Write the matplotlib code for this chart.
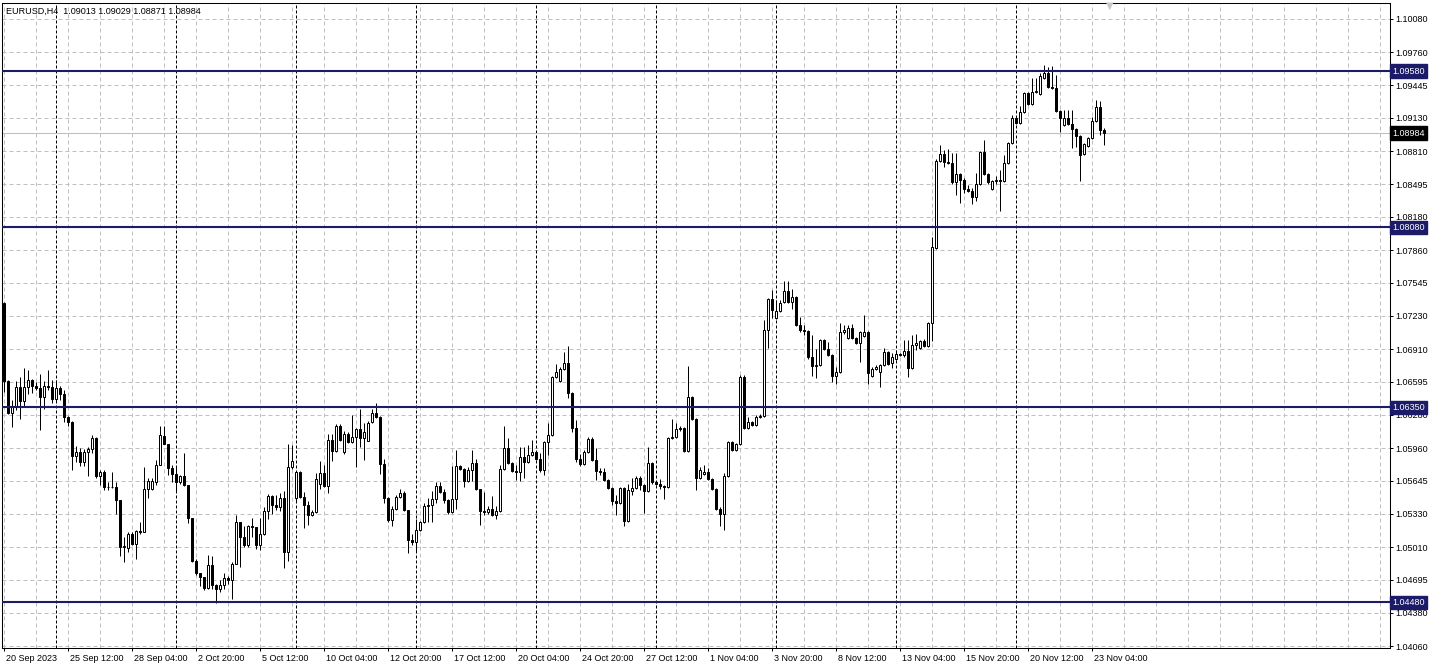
import matplotlib
matplotlib.use("Agg")
import matplotlib.pyplot as plt
from matplotlib.transforms import ScaledTranslation
import numpy as np

# ---------------- data ----------------
title_text = "EURUSD,H4  1.09013 1.09029 1.08871 1.08984"

opens = [
    1.0735, 1.0660, 1.0630, 1.0636, 1.0655, 1.0641, 1.0655, 1.0661, 1.0656, 1.0654,
    1.0645, 1.0656, 1.0655, 1.0643, 1.0654, 1.0648, 1.0626, 1.0621, 1.0588, 1.0592,
    1.0583, 1.0592, 1.0595, 1.0606, 1.0569, 1.0573, 1.0559, 1.0559, 1.0559, 1.0546,
    1.0501, 1.0500, 1.0514, 1.0504, 1.0516, 1.0515, 1.0557, 1.0557, 1.0563, 1.0580,
    1.0608, 1.0600, 1.0577, 1.0571, 1.0563, 1.0569, 1.0561, 1.0529, 1.0488, 1.0476,
    1.0472, 1.0462, 1.0484, 1.0465, 1.0461, 1.0465, 1.0471, 1.0469, 1.0485, 1.0525,
    1.0511, 1.0503, 1.0521, 1.0520, 1.0503, 1.0514, 1.0536, 1.0550, 1.0541, 1.0539,
    1.0548, 1.0496, 1.0578, 1.0548, 1.0573, 1.0549, 1.0541, 1.0532, 1.0535, 1.0562,
    1.0572, 1.0560, 1.0604, 1.0593, 1.0617, 1.0592, 1.0610, 1.0602, 1.0607, 1.0614,
    1.0606, 1.0603, 1.0621, 1.0630, 1.0626, 1.0581, 1.0548, 1.0527, 1.0538, 1.0549,
    1.0553, 1.0537, 1.0508, 1.0506, 1.0517, 1.0525, 1.0540, 1.0541, 1.0547, 1.0560,
    1.0554, 1.0546, 1.0535, 1.0547, 1.0579, 1.0576, 1.0564, 1.0575, 1.0582, 1.0557,
    1.0536, 1.0535, 1.0538, 1.0532, 1.0536, 1.0576, 1.0596, 1.0582, 1.0574, 1.0573,
    1.0587, 1.0583, 1.0589, 1.0592, 1.0586, 1.0575, 1.0602, 1.0609, 1.0664, 1.0660,
    1.0672, 1.0678, 1.0649, 1.0615, 1.0586, 1.0581, 1.0592, 1.0605, 1.0585, 1.0574,
    1.0573, 1.0565, 1.0558, 1.0545, 1.0543, 1.0558, 1.0526, 1.0555, 1.0558, 1.0567,
    1.0561, 1.0555, 1.0582, 1.0563, 1.0562, 1.0560, 1.0559, 1.0606, 1.0607, 1.0614,
    1.0615, 1.0593, 1.0645, 1.0624, 1.0567, 1.0571, 1.0573, 1.0566, 1.0557, 1.0538,
    1.0533, 1.0569, 1.0602, 1.0594, 1.0600, 1.0664, 1.0615, 1.0621, 1.0618, 1.0626,
    1.0627, 1.0709, 1.0739, 1.0721, 1.0728, 1.0736, 1.0747, 1.0736, 1.0741, 1.0714,
    1.0709, 1.0708, 1.0683, 1.0675, 1.0676, 1.0700, 1.0691, 1.0685, 1.0665, 1.0669,
    1.0707, 1.0702, 1.0711, 1.0702, 1.0697, 1.0704, 1.0707, 1.0665, 1.0672, 1.0669,
    1.0676, 1.0688, 1.0678, 1.0682, 1.0686, 1.0685, 1.0689, 1.0673, 1.0695, 1.0692,
    1.0699, 1.0694, 1.0716, 1.0788, 1.0872, 1.0878, 1.0871, 1.0870, 1.0851, 1.0859,
    1.0853, 1.0845, 1.0843, 1.0837, 1.0850, 1.0880, 1.0859, 1.0845, 1.0852, 1.0853,
    1.0852, 1.0870, 1.0889, 1.0913, 1.0908, 1.0919, 1.0937, 1.0926, 1.0938, 1.0936,
    1.0951, 1.0956, 1.0943, 1.0942, 1.0920, 1.0906, 1.0913, 1.0907, 1.0902, 1.0896,
    1.0878, 1.0886, 1.0894, 1.0910, 1.0923, 1.09013,
]

highs = [
    1.0736, 1.0661, 1.0642, 1.0660, 1.0664, 1.0673, 1.0671, 1.0662, 1.0659, 1.0667,
    1.0660, 1.0671, 1.0661, 1.0661, 1.0656, 1.0652, 1.0627, 1.0622, 1.0598, 1.0596,
    1.0595, 1.0597, 1.0609, 1.0607, 1.0575, 1.0575, 1.0563, 1.0573, 1.0563, 1.0546,
    1.0511, 1.0515, 1.0515, 1.0517, 1.0525, 1.0578, 1.0567, 1.0567, 1.0585, 1.0617,
    1.0617, 1.0600, 1.0580, 1.0579, 1.0570, 1.0591, 1.0561, 1.0529, 1.0490, 1.0476,
    1.0472, 1.0493, 1.0492, 1.0466, 1.0469, 1.0476, 1.0473, 1.0487, 1.0532, 1.0525,
    1.0521, 1.0522, 1.0529, 1.0520, 1.0529, 1.0539, 1.0552, 1.0551, 1.0551, 1.0553,
    1.0555, 1.0600, 1.0599, 1.0574, 1.0574, 1.0554, 1.0545, 1.0537, 1.0572, 1.0584,
    1.0580, 1.0610, 1.0610, 1.0619, 1.0619, 1.0612, 1.0611, 1.0628, 1.0615, 1.0634,
    1.0620, 1.0622, 1.0634, 1.0639, 1.0627, 1.0586, 1.0549, 1.0540, 1.0551, 1.0557,
    1.0555, 1.0537, 1.0514, 1.0528, 1.0526, 1.0543, 1.0548, 1.0555, 1.0563, 1.0563,
    1.0557, 1.0547, 1.0579, 1.0594, 1.0580, 1.0577, 1.0578, 1.0594, 1.0586, 1.0557,
    1.0554, 1.0540, 1.0550, 1.0540, 1.0580, 1.0617, 1.0606, 1.0583, 1.0580, 1.0597,
    1.0597, 1.0599, 1.0604, 1.0593, 1.0591, 1.0603, 1.0620, 1.0665, 1.0677, 1.0674,
    1.0688, 1.0694, 1.0650, 1.0623, 1.0590, 1.0594, 1.0607, 1.0607, 1.0596, 1.0577,
    1.0577, 1.0566, 1.0559, 1.0551, 1.0559, 1.0559, 1.0562, 1.0567, 1.0569, 1.0569,
    1.0562, 1.0597, 1.0583, 1.0564, 1.0566, 1.0561, 1.0607, 1.0624, 1.0620, 1.0617,
    1.0616, 1.0675, 1.0646, 1.0625, 1.0578, 1.0580, 1.0577, 1.0567, 1.0558, 1.0539,
    1.0572, 1.0603, 1.0603, 1.0601, 1.0666, 1.0666, 1.0626, 1.0622, 1.0628, 1.0629,
    1.0719, 1.0740, 1.0748, 1.0738, 1.0738, 1.0756, 1.0756, 1.0749, 1.0742, 1.0722,
    1.0714, 1.0709, 1.0705, 1.0691, 1.0701, 1.0701, 1.0698, 1.0686, 1.0674, 1.0716,
    1.0714, 1.0714, 1.0715, 1.0703, 1.0708, 1.0724, 1.0708, 1.0674, 1.0676, 1.0677,
    1.0692, 1.0689, 1.0687, 1.0690, 1.0687, 1.0700, 1.0700, 1.0705, 1.0706, 1.0700,
    1.0701, 1.0717, 1.0799, 1.0874, 1.0887, 1.0882, 1.0883, 1.0879, 1.0879, 1.0860,
    1.0855, 1.0849, 1.0846, 1.0860, 1.0881, 1.0892, 1.0860, 1.0853, 1.0857, 1.0863,
    1.0877, 1.0890, 1.0916, 1.0914, 1.0924, 1.0938, 1.0938, 1.0951, 1.0951, 1.0956,
    1.0964, 1.0962, 1.0963, 1.0954, 1.0921, 1.0921, 1.0921, 1.0921, 1.0903, 1.0897,
    1.0889, 1.0895, 1.0914, 1.0930, 1.0929, 1.09029,
]

lows = [
    1.0650, 1.0629, 1.0616, 1.0633, 1.0624, 1.0636, 1.0648, 1.0649, 1.0652, 1.0613,
    1.0634, 1.0652, 1.0639, 1.0641, 1.0642, 1.0621, 1.0617, 1.0575, 1.0583, 1.0579,
    1.0579, 1.0569, 1.0591, 1.0567, 1.0561, 1.0556, 1.0556, 1.0558, 1.0533, 1.0492,
    1.0487, 1.0496, 1.0503, 1.0490, 1.0514, 1.0515, 1.0548, 1.0556, 1.0561, 1.0580,
    1.0600, 1.0570, 1.0563, 1.0554, 1.0562, 1.0560, 1.0524, 1.0487, 1.0474, 1.0464,
    1.0460, 1.0461, 1.0461, 1.0447, 1.0458, 1.0461, 1.0466, 1.0451, 1.0485, 1.0482,
    1.0501, 1.0501, 1.0511, 1.0499, 1.0498, 1.0513, 1.0528, 1.0533, 1.0537, 1.0536,
    1.0481, 1.0488, 1.0576, 1.0545, 1.0548, 1.0519, 1.0522, 1.0531, 1.0534, 1.0557,
    1.0559, 1.0553, 1.0584, 1.0592, 1.0603, 1.0590, 1.0601, 1.0601, 1.0578, 1.0597,
    1.0585, 1.0603, 1.0620, 1.0625, 1.0571, 1.0543, 1.0525, 1.0521, 1.0537, 1.0548,
    1.0536, 1.0495, 1.0503, 1.0497, 1.0516, 1.0524, 1.0525, 1.0525, 1.0543, 1.0553,
    1.0543, 1.0533, 1.0534, 1.0538, 1.0575, 1.0559, 1.0563, 1.0564, 1.0556, 1.0522,
    1.0532, 1.0533, 1.0531, 1.0528, 1.0535, 1.0575, 1.0581, 1.0573, 1.0565, 1.0564,
    1.0567, 1.0582, 1.0588, 1.0585, 1.0573, 1.0570, 1.0589, 1.0608, 1.0663, 1.0659,
    1.0671, 1.0644, 1.0611, 1.0583, 1.0579, 1.0580, 1.0591, 1.0584, 1.0565, 1.0570,
    1.0564, 1.0557, 1.0541, 1.0532, 1.0542, 1.0521, 1.0525, 1.0551, 1.0557, 1.0556,
    1.0534, 1.0554, 1.0562, 1.0561, 1.0557, 1.0547, 1.0558, 1.0605, 1.0606, 1.0612,
    1.0592, 1.0592, 1.0623, 1.0556, 1.0566, 1.0570, 1.0565, 1.0556, 1.0537, 1.0521,
    1.0517, 1.0568, 1.0593, 1.0593, 1.0599, 1.0614, 1.0614, 1.0617, 1.0617, 1.0625,
    1.0626, 1.0692, 1.0721, 1.0720, 1.0727, 1.0735, 1.0735, 1.0730, 1.0713, 1.0707,
    1.0705, 1.0682, 1.0665, 1.0663, 1.0675, 1.0690, 1.0684, 1.0659, 1.0658, 1.0668,
    1.0706, 1.0701, 1.0701, 1.0696, 1.0679, 1.0703, 1.0658, 1.0664, 1.0671, 1.0655,
    1.0675, 1.0676, 1.0673, 1.0681, 1.0684, 1.0683, 1.0664, 1.0672, 1.0690, 1.0691,
    1.0693, 1.0693, 1.0699, 1.0787, 1.0871, 1.0866, 1.0869, 1.0850, 1.0839, 1.0831,
    1.0841, 1.0842, 1.0830, 1.0833, 1.0849, 1.0858, 1.0850, 1.0844, 1.0850, 1.0824,
    1.0851, 1.0869, 1.0888, 1.0907, 1.0907, 1.0918, 1.0925, 1.0925, 1.0937, 1.0935,
    1.0950, 1.0942, 1.0941, 1.0919, 1.0899, 1.0905, 1.0906, 1.0884, 1.0885, 1.0852,
    1.0877, 1.0885, 1.0893, 1.0909, 1.0897, 1.08871,
]

closes = [
    1.0660, 1.0630, 1.0636, 1.0655, 1.0641, 1.0655, 1.0661, 1.0656, 1.0654, 1.0645,
    1.0656, 1.0655, 1.0643, 1.0654, 1.0648, 1.0626, 1.0621, 1.0588, 1.0592, 1.0583,
    1.0592, 1.0595, 1.0606, 1.0569, 1.0573, 1.0559, 1.0559, 1.0559, 1.0546, 1.0501,
    1.0502, 1.0514, 1.0504, 1.0516, 1.0515, 1.0557, 1.0564, 1.0564, 1.0580, 1.0609,
    1.0600, 1.0577, 1.0571, 1.0563, 1.0569, 1.0561, 1.0529, 1.0488, 1.0476, 1.0472,
    1.0462, 1.0484, 1.0465, 1.0461, 1.0465, 1.0471, 1.0469, 1.0485, 1.0525, 1.0511,
    1.0503, 1.0521, 1.0520, 1.0503, 1.0514, 1.0536, 1.0550, 1.0541, 1.0539, 1.0548,
    1.0496, 1.0578, 1.0584, 1.0573, 1.0549, 1.0541, 1.0532, 1.0535, 1.0566, 1.0572,
    1.0560, 1.0604, 1.0593, 1.0617, 1.0604, 1.0610, 1.0602, 1.0607, 1.0614, 1.0606,
    1.0611, 1.0620, 1.0630, 1.0626, 1.0581, 1.0548, 1.0527, 1.0538, 1.0549, 1.0553,
    1.0537, 1.0508, 1.0506, 1.0517, 1.0525, 1.0540, 1.0541, 1.0547, 1.0560, 1.0554,
    1.0546, 1.0535, 1.0547, 1.0579, 1.0576, 1.0564, 1.0575, 1.0582, 1.0557, 1.0536,
    1.0535, 1.0538, 1.0532, 1.0536, 1.0576, 1.0596, 1.0582, 1.0574, 1.0573, 1.0587,
    1.0583, 1.0589, 1.0592, 1.0586, 1.0575, 1.0602, 1.0609, 1.0664, 1.0669, 1.0672,
    1.0678, 1.0649, 1.0615, 1.0586, 1.0581, 1.0592, 1.0605, 1.0585, 1.0574, 1.0573,
    1.0565, 1.0558, 1.0545, 1.0543, 1.0558, 1.0526, 1.0556, 1.0558, 1.0567, 1.0561,
    1.0555, 1.0582, 1.0563, 1.0562, 1.0560, 1.0559, 1.0606, 1.0607, 1.0614, 1.0615,
    1.0593, 1.0645, 1.0624, 1.0567, 1.0575, 1.0573, 1.0566, 1.0557, 1.0538, 1.0533,
    1.0569, 1.0602, 1.0594, 1.0600, 1.0664, 1.0615, 1.0621, 1.0618, 1.0626, 1.0627,
    1.0709, 1.0739, 1.0729, 1.0728, 1.0735, 1.0747, 1.0736, 1.0741, 1.0714, 1.0709,
    1.0708, 1.0683, 1.0675, 1.0676, 1.0700, 1.0691, 1.0685, 1.0665, 1.0669, 1.0707,
    1.0709, 1.0711, 1.0702, 1.0697, 1.0707, 1.0707, 1.0668, 1.0672, 1.0674, 1.0676,
    1.0688, 1.0677, 1.0683, 1.0686, 1.0685, 1.0689, 1.0673, 1.0695, 1.0697, 1.0699,
    1.0694, 1.0716, 1.0789, 1.0872, 1.0878, 1.0871, 1.0870, 1.0851, 1.0859, 1.0853,
    1.0845, 1.0843, 1.0837, 1.0850, 1.0880, 1.0859, 1.0851, 1.0852, 1.0853, 1.0852,
    1.0870, 1.0889, 1.0913, 1.0908, 1.0919, 1.0937, 1.0926, 1.0938, 1.0939, 1.0953,
    1.0956, 1.0943, 1.0942, 1.0920, 1.0913, 1.0913, 1.0907, 1.0902, 1.0896, 1.0877,
    1.0888, 1.0894, 1.0910, 1.0923, 1.0901, 1.08984,
]

x_label_pos = [0, 16, 32, 48, 64, 80, 96, 112, 128, 144, 160, 176, 192, 208, 224, 240, 256, 272]
x_label_txt = ["20 Sep 2023", "25 Sep 12:00", "28 Sep 04:00", "2 Oct 20:00", "5 Oct 12:00",
               "10 Oct 04:00", "12 Oct 20:00", "17 Oct 12:00", "20 Oct 04:00", "24 Oct 20:00",
               "27 Oct 12:00", "1 Nov 04:00", "3 Nov 20:00", "8 Nov 12:00", "13 Nov 04:00",
               "15 Nov 20:00", "20 Nov 12:00", "23 Nov 04:00"]
week_starts = [13, 43, 73, 103, 133, 163, 193, 223, 253]

y_ticks = [1.10080, 1.09760, 1.09445, 1.09130, 1.08810, 1.08495, 1.08180, 1.07860, 1.07545,
           1.07230, 1.06910, 1.06595, 1.06280, 1.05960, 1.05645, 1.05330, 1.05010, 1.04695,
           1.04380, 1.04060]
levels = [1.09580, 1.08080, 1.06350, 1.04480]
last_price = 1.08984

# ---------------- figure ----------------
W, H = 1435, 670
plt.rcParams['font.family'] = ['Liberation Sans', 'DejaVu Sans']
FS = 6.5
NAVY = '#1b1b68'
GRID = '#c0c0c0'
PX = 72 / 100  # one pixel in points

fig = plt.figure(figsize=(W / 100, H / 100), dpi=100)
fig.patch.set_facecolor('white')
ax = fig.add_axes([2 / W, 22 / H, 1387.5 / W, 645 / H])

o = np.array(opens)
h = np.array(highs)
l = np.array(lows)
c = np.array(closes)
xi = np.arange(len(c))
up = c >= o

ax.vlines(xi, l, h, colors='black', linewidth=PX, zorder=3)
ax.bar(xi, np.abs(c - o), bottom=np.minimum(o, c), width=0.5,
       color=np.where(up, 'white', 'black'), edgecolor='black',
       linewidth=PX, zorder=4)

# candle i centred on pixel column 3 + 4 i
ax.set_xlim(-0.375, 346.5)
ax.set_ylim(1.04041, 1.10233)

# grid
ax.xaxis.remove_overlapping_locs = False
ax.set_xticks(np.arange(0, 347, 8), minor=True)
ax.grid(which='minor', axis='x', color=GRID, linestyle=(0, (4, 3)), linewidth=PX, zorder=0)
ax.grid(which='major', axis='y', color=GRID, linestyle=(0, (4, 3)), linewidth=PX, zorder=0)
ax.set_axisbelow(True)

# week separators
for w in week_starts:
    ax.axvline(w, color='black', linestyle=(0, (3, 2)), linewidth=PX, zorder=1)

# y axis
ax.yaxis.tick_right()
ax.set_yticks(y_ticks)
ax.set_yticklabels([f"{v:.5f}" for v in y_ticks])
ax.tick_params(axis='y', which='major', direction='out', length=2.3, width=PX,
               pad=1.8, labelsize=FS, colors='black')

# x axis
ax.set_xticks(x_label_pos)
ax.set_xticklabels(x_label_txt, ha='left')
ax.tick_params(axis='x', which='major', direction='out', length=2.3, width=PX,
               pad=2.0, labelsize=FS)
ax.tick_params(axis='x', which='minor', length=0)
for lbl in ax.get_xticklabels():
    lbl.set_transform(lbl.get_transform() + ScaledTranslation(2 / 100, 0, fig.dpi_scale_trans))

for s in ax.spines.values():
    s.set_color('black')
    s.set_linewidth(0.75)

# horizontal levels with price boxes
box_off = ScaledTranslation(3 / 100, 0, fig.dpi_scale_trans)
for lv in levels:
    ax.axhline(lv, color=NAVY, linewidth=1.5, zorder=5)
    ax.text(1.0, lv, f"{lv:.5f}", transform=ax.get_yaxis_transform() + box_off,
            ha='left', va='center', color='white', fontsize=FS, zorder=10, clip_on=False,
            bbox=dict(boxstyle='square,pad=0.25', fc=NAVY, ec=NAVY))

# last price line
ax.axhline(last_price, color=GRID, linewidth=0.8, zorder=2)
ax.text(1.0, last_price, f"{last_price:.5f}", transform=ax.get_yaxis_transform() + box_off,
        ha='left', va='center', color='white', fontsize=FS, zorder=10, clip_on=False,
        bbox=dict(boxstyle='square,pad=0.25', fc='black', ec='black'))

# title
fig.text(6 / W, 1 - 11 / H, title_text, fontsize=FS, ha='left', va='center', color='black')

# chart shift marker
fig.text(1110 / W, 1 - 6 / H, '\u25BC', fontsize=7, ha='center', va='center',
         color='#c8c8c8', family='DejaVu Sans')

fig.savefig('out.png', dpi=100, facecolor='white')
